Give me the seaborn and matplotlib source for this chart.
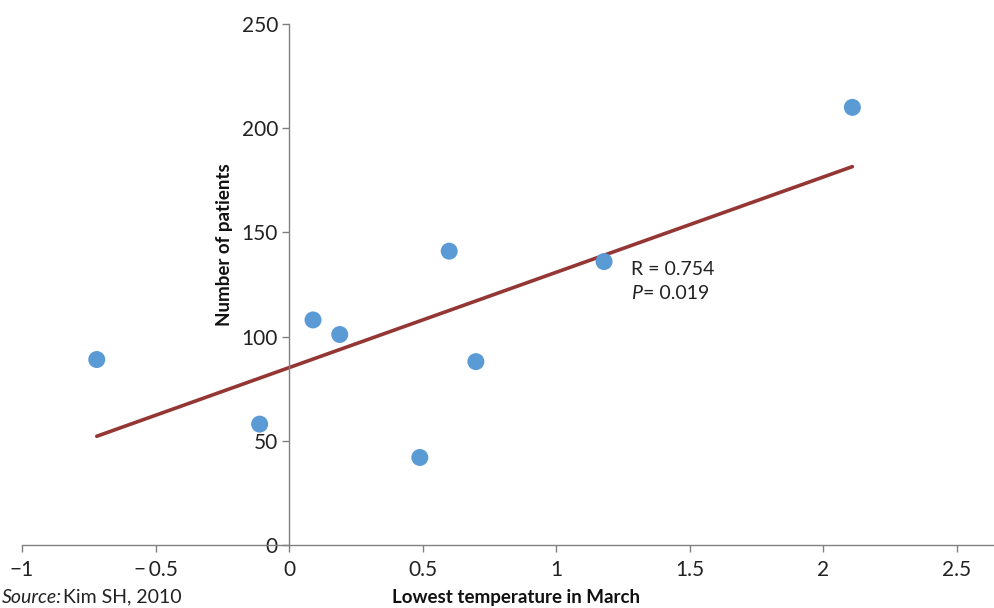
import numpy as np
import pandas as pd
import matplotlib
matplotlib.use("Agg")
import matplotlib.pyplot as plt
import seaborn as sns

# Data
temperature = [-0.72, -0.11, 0.09, 0.19, 0.49, 0.60, 0.70, 1.18, 2.11]
patients = [89, 58, 108, 101, 42, 141, 88, 136, 210]
x_ticks = [-1, -0.5, 0, 0.5, 1, 1.5, 2, 2.5]
x_tick_labels = ["\u22121", "\u2212\u20090.5", "0", "0.5", "1", "1.5", "2", "2.5"]
y_ticks = [0, 50, 100, 150, 200, 250]
y_tick_labels = ["0", "50", "100", "150", "200", "250"]

df = pd.DataFrame({"temp": temperature, "patients": patients})

sns.set_style("white")
plt.rcParams['font.family'] = ['Lato', 'DejaVu Sans']

fig = plt.figure(figsize=(9.95, 6.08), dpi=100)
ax = fig.add_axes([22/995, 1-545/608, 1-22/995, (545-24)/608])

point_color = "#5B9BD5"
line_color = "#943634"

sns.regplot(data=df, x="temp", y="patients", ax=ax, ci=None,
            scatter_kws=dict(s=150, color=point_color, edgecolors="none", zorder=3, alpha=1),
            line_kws=dict(color=line_color, lw=2.6, zorder=2))

ax.set_xlim(-1, -1 + (995-22)/267)
ax.set_ylim(0, 250)
ax.set_xticks(x_ticks)
ax.set_xticklabels(x_tick_labels)
ax.set_yticks(y_ticks)
ax.set_yticklabels(y_tick_labels)
ax.set_xlabel("")
ax.set_ylabel("")

for s in ["top", "right"]:
    ax.spines[s].set_visible(False)
ax.spines["left"].set_position(("data", 0))
ax.spines["bottom"].set_position(("data", 0))
for s in ["left", "bottom"]:
    ax.spines[s].set_color("#808080")
    ax.spines[s].set_linewidth(1.0)
ax.tick_params(axis="both", direction="out", length=5, width=1.0, color="#808080",
               labelcolor="#222222", labelsize=15, pad=3)
ax.tick_params(axis="x", bottom=True, pad=6)
ax.tick_params(axis="y", left=True)

# Annotation
ax.text(1.28, 132, "R = 0.754", fontsize=14, color="#222222", va="center", ha="left")
ax.text(1.28, 120.5, "P", fontsize=14, color="#222222", va="center", ha="left", style="italic")
ax.text(1.325, 120.5, "= 0.019", fontsize=14, color="#222222", va="center", ha="left")

# Axis labels
fig.text(225/995, 1-245/608, "Number of patients", rotation=90, fontsize=13.5,
         fontweight="bold", ha="center", va="center", color="#111111")
fig.text(516/995, 1-598/608, "Lowest temperature in March", fontsize=13.5,
         fontweight="bold", ha="center", va="center", color="#111111")

# Source note
fig.text(0.002, 0.004, "Source:", fontsize=14, style="italic", ha="left", va="bottom", color="#222222")
fig.text(0.058, 0.004, " Kim SH, 2010", fontsize=14, ha="left", va="bottom", color="#222222")

fig.savefig("out.png", dpi=100)
